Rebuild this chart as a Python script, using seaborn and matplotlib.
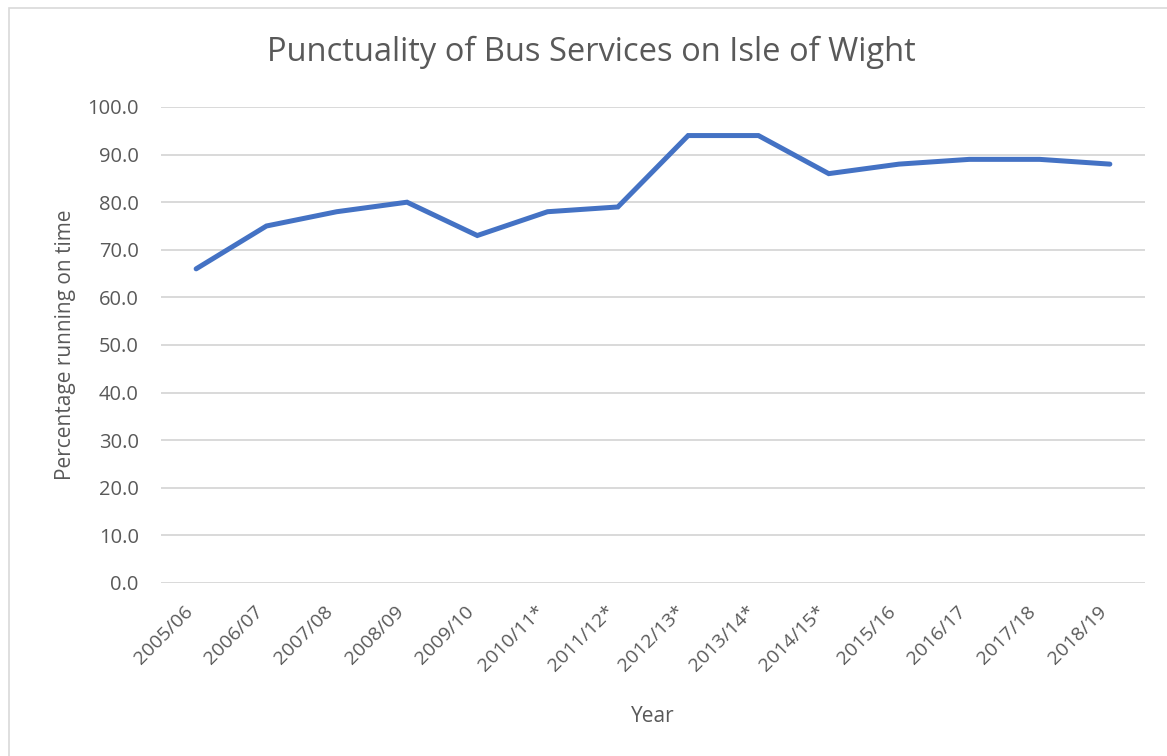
import pandas as pd
import matplotlib
matplotlib.use('Agg')
import matplotlib.pyplot as plt
import seaborn as sns
from matplotlib.patches import Rectangle

# data
years = ['2005/06', '2006/07', '2007/08', '2008/09', '2009/10', '2010/11*', '2011/12*',
         '2012/13*', '2013/14*', '2014/15*', '2015/16', '2016/17', '2017/18', '2018/19']
on_time = [66, 75, 78, 80, 73, 78, 79, 94, 94, 86, 88, 89, 89, 88]
y_ticks = [0, 10, 20, 30, 40, 50, 60, 70, 80, 90, 100]

df = pd.DataFrame({'Year': years, 'Percentage running on time': on_time})

sns.set_theme(style='white')
plt.rcParams['font.family'] = ['Open Sans', 'DejaVu Sans']

text_col = '#595959'
grid_col = '#d9d9d9'

fig = plt.figure(figsize=(11.67, 7.56), dpi=100)
ax = fig.add_axes([161 / 1167, 1 - 583 / 756, (1145 - 161) / 1167, (583 - 107) / 756])

sns.lineplot(data=df, x='Year', y='Percentage running on time', ax=ax, sort=False,
             color='#4472C4', linewidth=3.6, solid_capstyle='round', solid_joinstyle='miter')

ax.set_xlim(-0.5, len(years) - 0.5)
ax.set_ylim(0, 100)
ax.set_yticks(y_ticks)
ax.set_yticklabels([f'{v:.1f}' for v in y_ticks])
ax.yaxis.grid(True, color=grid_col, linewidth=1.4)
ax.set_axisbelow(True)
for s in ax.spines.values():
    s.set_visible(False)
ax.tick_params(axis='both', length=0, labelsize=14, colors=text_col)
ax.tick_params(axis='y', pad=16, labelsize=14.5)
ax.tick_params(axis='x', pad=14)
plt.setp(ax.get_xticklabels(), rotation=45, ha='right', rotation_mode='default')

ax.set_xlabel('Year', fontsize=15, color=text_col, labelpad=22)
ax.set_ylabel('Percentage running on time', fontsize=15, color=text_col, labelpad=8)
fig.text(591 / 1167, 1 - 52 / 756, 'Punctuality of Bus Services on Isle of Wight',
         ha='center', va='center', fontsize=23.5, color=text_col)

# chart border
fig.patches.append(Rectangle((9 / 1167, -0.05), 1.2, 1 - 8 / 756 + 0.05, transform=fig.transFigure,
                             fill=False, edgecolor='#d9d9d9', linewidth=1.2))

fig.savefig('out.png', dpi=100)
